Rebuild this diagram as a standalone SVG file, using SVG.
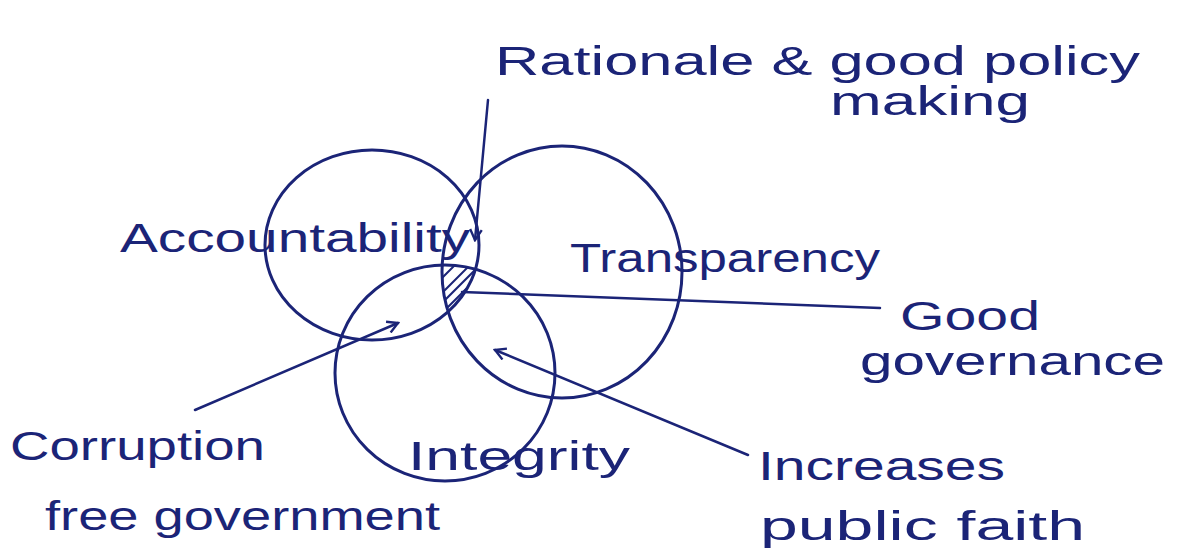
<svg xmlns="http://www.w3.org/2000/svg" width="1200" height="559" viewBox="0 0 1200 559">
<defs>
<style>
.c{fill:none;stroke:#1b2477;stroke-width:3}
.l{fill:none;stroke:#1b2477;stroke-width:2.5;stroke-linecap:round}
.t{font-family:"Liberation Sans","DejaVu Sans",sans-serif;fill:#1b2477;font-size:40px}
.h{stroke:#1b2477;stroke-width:2}
</style>
<marker id="ah" viewBox="0 0 12 12" refX="10" refY="6" markerWidth="14" markerHeight="14" markerUnits="userSpaceOnUse" orient="auto">
<path d="M1,1 L10,6 L1,11" fill="none" stroke="#1b2477" stroke-width="2"/>
</marker>
<clipPath id="cA"><ellipse cx="372" cy="245" rx="107" ry="95"/></clipPath>
<clipPath id="cT"><ellipse cx="562" cy="272" rx="120" ry="126"/></clipPath>
<clipPath id="cI"><ellipse cx="445" cy="373" rx="110" ry="108"/></clipPath>
</defs>
<rect width="1200" height="559" fill="#ffffff"/>
<g id="accountability">
<ellipse class="c" cx="372" cy="245" rx="107" ry="95"/>
<text class="t" x="120" y="252" textLength="350" lengthAdjust="spacingAndGlyphs">Accountability</text>
</g>
<g id="transparency">
<ellipse class="c" cx="562" cy="272" rx="120" ry="126"/>
<text class="t" x="570" y="272" textLength="310" lengthAdjust="spacingAndGlyphs">Transparency</text>
</g>
<g id="integrity">
<ellipse class="c" cx="445" cy="373" rx="110" ry="108"/>
<text class="t" x="408" y="470" textLength="222" lengthAdjust="spacingAndGlyphs">Integrity</text>
</g>
<g id="core" clip-path="url(#cA)">
<g clip-path="url(#cT)">
<g clip-path="url(#cI)">
<path class="h" d="M430,290 L470,250 M435,300 L480,255 M440,305 L482,263 M445,310 L485,270 M455,310 L485,280 M465,310 L485,290"/>
</g>
</g>
</g>
<g id="rationale">
<text class="t" x="495" y="75" textLength="645" lengthAdjust="spacingAndGlyphs">Rationale &amp; good policy</text>
<text class="t" x="830" y="115" textLength="200" lengthAdjust="spacingAndGlyphs">making</text>
</g>
<g id="good-governance">
<text class="t" x="900" y="330" textLength="140" lengthAdjust="spacingAndGlyphs">Good</text>
<text class="t" x="860" y="375" textLength="305" lengthAdjust="spacingAndGlyphs">governance</text>
</g>
<g id="corruption">
<text class="t" x="10" y="460" textLength="255" lengthAdjust="spacingAndGlyphs">Corruption</text>
<text class="t" x="45" y="530" textLength="395" lengthAdjust="spacingAndGlyphs">free government</text>
</g>
<g id="public-faith">
<text class="t" x="758" y="480" textLength="247" lengthAdjust="spacingAndGlyphs">Increases</text>
<text class="t" x="760" y="540" textLength="325" lengthAdjust="spacingAndGlyphs">public faith</text>
</g>
<g id="connectors">
<path class="l" d="M488,100 L475,240" marker-end="url(#ah)"/>
<path class="l" d="M462,292 L880,308"/>
<path class="l" d="M195,410 L398,323" marker-end="url(#ah)"/>
<path class="l" d="M748,455 L495,350" marker-end="url(#ah)"/>
</g>
</svg>
